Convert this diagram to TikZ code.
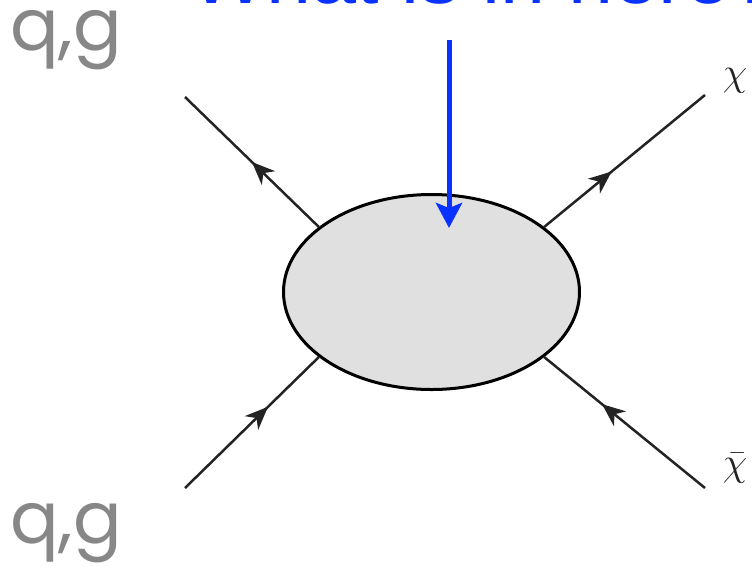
\documentclass[tikz,border=0pt]{standalone}
\usepackage{fontspec}
\newfontfamily\labelfont{Liberation Sans}
\newfontfamily\qgfont{Poppins}
\usetikzlibrary{arrows.meta,decorations.markings,shapes.geometric}
\definecolor{qgray}{RGB}{135,135,135}
\definecolor{qblue}{RGB}{10,50,255}
\definecolor{lineblack}{RGB}{35,35,35}
\definecolor{blobfill}{RGB}{224,224,224}
\newcommand{\bigmath}[1]{\scalebox{1.6}{\Huge$#1$}}
\tikzset{
  fermion/.style={draw=lineblack, line width=2.5pt, postaction={decorate},
    decoration={markings, mark=at position #1 with {\arrow{Stealth[length=23pt,width=19pt,inset=7pt]}}}},
  qglabel/.style={anchor=north west, inner sep=0pt, text=qgray,
    font=\qgfont\fontsize{72}{80}\selectfont},
  chilabel/.style={inner sep=0pt, text=lineblack},
  blobstyle/.style={ellipse, draw=black, line width=3pt, fill=blobfill,
    minimum width=296pt, minimum height=195pt, inner sep=0pt},
  bluearrow/.style={draw=qblue, line width=5pt, -{Stealth[length=25pt,width=26pt,inset=5pt]}},
  questionlabel/.style={anchor=base west, inner sep=0pt, text=qblue,
    font=\labelfont\fontsize{81}{90}\selectfont}
}
\begin{document}
\begin{tikzpicture}[x=1pt,y=-1pt]
  \useasboundingbox (0,0) rectangle (752,566);
  \node[questionlabel] (question) at (190,3) {What is in here?};
  \node[blobstyle] (blob) at (431.5,292) {};
  \coordinate (tl) at (185,97);
  \coordinate (tr) at (705,95);
  \coordinate (bl) at (185,488);
  \coordinate (br) at (705,488);
  \draw[fermion=0.5] (blob.150) -- (tl);
  \draw[fermion=0.42] (blob.30) -- (tr);
  \draw[fermion=0.62] (bl) -- (blob.210);
  \draw[fermion=0.64] (br) -- (blob.330);
  \coordinate (bstart) at (449,40);
  \coordinate (btip) at (449,228);
  \draw[bluearrow] (bstart) -- (btip);
  \node[qglabel] (qgtop) at (10,10) {q,g};
  \node[qglabel] (qgbot) at (10,503) {q,g};
  \node[chilabel] (chi) at (735,81) {\bigmath{\chi}};
  \node[chilabel] (chibar) at (735,468) {\bigmath{\bar{\chi}}};
\end{tikzpicture}
\end{document}
